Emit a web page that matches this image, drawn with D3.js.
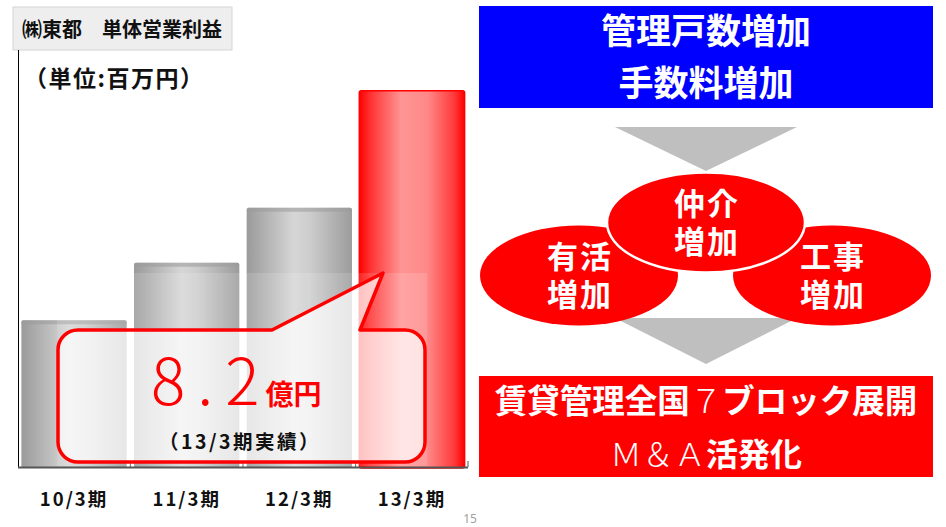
<!DOCTYPE html>
<html>
<head>
<meta charset="utf-8">
<script src="https://cdn.jsdelivr.net/npm/d3@7"></script>
<style>
  html, body { margin: 0; padding: 0; background: #fff; }
  svg { display: block; font-family: "Noto Sans CJK JP", "Noto Sans", sans-serif; }
</style>
</head>
<body>
<div id="chart"></div>
<script>
const width = 946;
const height = 527;

// data
const categories = ["10/3期", "11/3期", "12/3期", "13/3期"];
const profits = [320, 445, 565, 820];   // 百万円
const highlight = "13/3期";
const chartTitle = "㈱東都　単体営業利益";
const unitLabel = "（単位:百万円）";
const calloutValue = "8.2";
const calloutUnit = "億円";
const calloutNote = "（13/3期実績）";
const topLines = ["管理戸数増加", "手数料増加"];
const circles = [
    { name: "left",   lines: ["有活", "増加"] },
    { name: "right",  lines: ["工事", "増加"] },
    { name: "middle", lines: ["仲介", "増加"] }
];

const svg = d3.select("#chart")
    .append("svg")
        .attr("width", width)
        .attr("height", height)
        .attr("viewBox", [0, 0, width, height]);

const defs = svg.append("defs");

function hGradient(id, stops) {
    const g = defs.append("linearGradient")
        .attr("id", id)
        .attr("x1", "0%").attr("x2", "100%")
        .attr("y1", "0%").attr("y2", "0%");
    stops.forEach(s => g.append("stop").attr("offset", s[0]).attr("stop-color", s[1]));
}
hGradient("grayBar", [[0, "#9a9a9a"], [0.45, "#d6d6d6"], [0.6, "#cdcdcd"], [1, "#9c9c9c"]]);
hGradient("redBar", [[0, "#ff0000"], [0.1, "#ff3030"], [0.4, "#ff9595"], [0.65, "#ff8888"], [0.9, "#ff3a3a"], [1, "#ff0000"]]);

// ---- left: bar chart ----
const x = d3.scaleBand()
    .domain(categories)
    .range([18, 468])
    .paddingInner(0.065)
    .paddingOuter(0.03);

const y = d3.scaleLinear()
    .domain([0, 900])
    .range([467, 54]);

// title box
svg.append("rect")
    .attr("x", 13).attr("y", 7)
    .attr("width", 219).attr("height", 43)
    .attr("fill", "#eeeeee")
    .attr("stroke", "#d4d4d4");

svg.append("text")
    .attr("x", 22).attr("y", 37)
    .attr("font-size", 20)
    .attr("font-weight", "bold")
    .attr("fill", "#111")
    .text(chartTitle);

// y axis line
svg.append("line")
    .attr("x1", 18.5).attr("x2", 18.5)
    .attr("y1", 50).attr("y2", y(0))
    .attr("stroke", "#000");

svg.append("text")
    .attr("x", 24).attr("y", 87)
    .attr("font-size", 23)
    .attr("font-weight", "bold")
    .attr("letter-spacing", 1.5)
    .attr("fill", "#111")
    .text(unitLabel);

const bars = svg.append("g").selectAll("g")
    .data(categories)
    .enter().append("g");

bars.append("rect")
    .attr("x", d => x(d))
    .attr("y", (d, i) => y(profits[i]))
    .attr("width", x.bandwidth())
    .attr("height", (d, i) => y(0) - y(profits[i]) + 1)
    .attr("rx", 2)
    .attr("fill", d => d === highlight ? "url(#redBar)" : "url(#grayBar)")
    .attr("stroke", d => d === highlight ? "#ff0000" : "none")
    .attr("stroke-width", 1.5);

bars.filter(d => d !== highlight).append("rect")
    .attr("x", d => x(d))
    .attr("y", (d, i) => y(profits[i]))
    .attr("width", x.bandwidth())
    .attr("height", 4)
    .attr("rx", 2)
    .attr("fill", "#9a9a9a")
    .attr("opacity", 0.55);

// x axis
const xAxis = svg.append("g")
    .attr("transform", `translate(0,${y(0)})`)
    .call(d3.axisBottom(x).tickSize(0).tickPadding(26));
xAxis.select(".domain").remove();
xAxis.selectAll("text")
    .attr("font-size", 18.5)
    .attr("font-weight", "bold")
    .attr("letter-spacing", 2)
    .attr("fill", "#111")
    .attr("font-family", "'Noto Sans CJK JP', sans-serif");

svg.append("line")
    .attr("x1", 18).attr("x2", 468)
    .attr("y1", y(0) + 0.5).attr("y2", y(0) + 0.5)
    .attr("stroke", "#555")
    .attr("stroke-width", 2);

const gap = x.step() * x.paddingInner() / 2;
svg.append("g").selectAll("line")
    .data(categories.slice(1).concat(["end"]))
    .enter().append("line")
        .attr("x1", d => d === "end" ? 468 : x(d) - gap)
        .attr("x2", d => d === "end" ? 468 : x(d) - gap)
        .attr("y1", y(0) - 6)
        .attr("y2", y(0))
        .attr("stroke", "#555");

// callout
svg.append("rect")
    .attr("x", 57).attr("y", 273)
    .attr("width", 370).attr("height", 193)
    .attr("fill", "#fff")
    .attr("opacity", 0.14);

const bubble = "M78,330 L272,330 L383,273 L360,330 L405,330 A20,20 0 0 1 425,350 L425,442 " +
    "A20,20 0 0 1 405,462 L78,462 A20,20 0 0 1 58,442 L58,350 A20,20 0 0 1 78,330 Z";
svg.append("path")
    .attr("d", bubble)
    .attr("fill", "#fff")
    .attr("fill-opacity", 0.72)
    .attr("stroke", "#ff0000")
    .attr("stroke-width", 3.5)
    .attr("stroke-linejoin", "round");

const big = svg.append("text")
    .attr("x", 151).attr("y", 405)
    .attr("fill", "#ff0000");
big.append("tspan")
    .attr("font-size", 64)
    .attr("font-weight", 300)
    .attr("letter-spacing", 12)
    .text(calloutValue);
big.append("tspan")
    .attr("dx", -6)
    .attr("font-size", 28)
    .attr("font-weight", "bold")
    .text(calloutUnit);

svg.append("text")
    .attr("x", 240).attr("y", 449)
    .attr("text-anchor", "middle")
    .attr("font-size", 19.5)
    .attr("font-weight", "bold")
    .attr("letter-spacing", 2.5)
    .attr("fill", "#111")
    .text(calloutNote);

// ---- right: diagram ----
svg.append("rect")
    .attr("x", 479).attr("y", 6)
    .attr("width", 454).attr("height", 102)
    .attr("fill", "#0000ff");

svg.append("g").selectAll("text")
    .data(topLines)
    .enter().append("text")
        .attr("x", 706)
        .attr("y", (d, i) => 44 + i * 52)
        .attr("text-anchor", "middle")
        .attr("font-size", 35)
        .attr("font-weight", "bold")
        .attr("fill", "#fff")
        .text(d => d);

const arrow = d3.line();
svg.append("path")
    .attr("d", arrow([[615, 127], [797, 127], [706, 171]]) + "Z")
    .attr("fill", "#bfbfbf");
svg.append("path")
    .attr("d", arrow([[615, 318], [797, 318], [706, 364]]) + "Z")
    .attr("fill", "#bfbfbf");

const circlePos = {
    left:   { cx: 579, cy: 275.5 },
    right:  { cx: 832, cy: 275.5 },
    middle: { cx: 706, cy: 222.5 }
};

const bubbles = svg.append("g").selectAll("g")
    .data(circles)
    .enter().append("g")
        .attr("transform", d => `translate(${circlePos[d.name].cx},${circlePos[d.name].cy})`);

bubbles.append("ellipse")
    .attr("rx", 99)
    .attr("ry", 50)
    .attr("fill", "#ff0000")
    .attr("stroke", "#fff")
    .attr("stroke-width", d => d.name === "middle" ? 2.5 : 0);

bubbles.append("text")
    .attr("text-anchor", "middle")
    .attr("font-size", 31)
    .attr("font-weight", "bold")
    .attr("letter-spacing", 2)
    .attr("fill", "#fff")
    .selectAll("tspan")
    .data(d => d.lines)
    .enter().append("tspan")
        .attr("x", 1)
        .attr("y", (d, i) => (i === 0 ? -19 : 19) + 11)
        .text(d => d);

svg.append("rect")
    .attr("x", 479).attr("y", 376)
    .attr("width", 454).attr("height", 101)
    .attr("fill", "#ff0000");

const line1 = svg.append("text")
    .attr("x", 706).attr("y", 413)
    .attr("text-anchor", "middle")
    .attr("font-size", 32.5)
    .attr("fill", "#fff");
line1.append("tspan").attr("font-weight", "bold").text("賃貸管理全国");
line1.append("tspan").attr("font-weight", 300).text("７");
line1.append("tspan").attr("font-weight", "bold").text("ブロック展開");

const line2 = svg.append("text")
    .attr("x", 706).attr("y", 466)
    .attr("text-anchor", "middle")
    .attr("font-size", 32)
    .attr("fill", "#fff");
line2.append("tspan").attr("font-weight", 300).text("Ｍ＆Ａ");
line2.append("tspan").attr("font-weight", "bold").text("活発化");

// page number
svg.append("text")
    .attr("x", 470).attr("y", 523)
    .attr("text-anchor", "middle")
    .attr("font-size", 12)
    .attr("fill", "#a0a0a0")
    .attr("font-family", "'Noto Sans', sans-serif")
    .text("15");
</script>
</body>
</html>
